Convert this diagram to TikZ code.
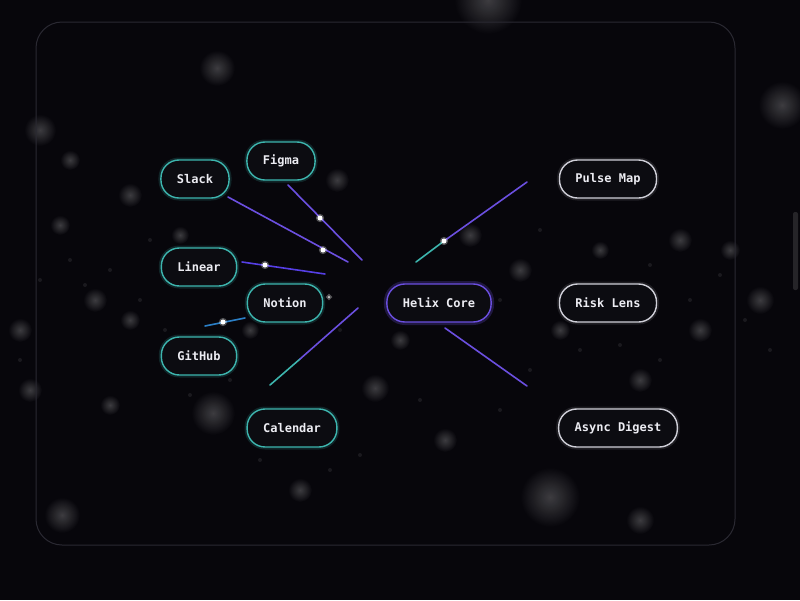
\documentclass[tikz,border=0pt]{standalone}
\usepackage{fontspec}
\setmonofont{DejaVu Sans Mono}
\usetikzlibrary{positioning, fadings}
\definecolor{bgdark}{HTML}{07060B}
\definecolor{panelline}{HTML}{2A2932}
\definecolor{tealline}{HTML}{3DB5AE}
\definecolor{violetline}{HTML}{6B4FE0}
\definecolor{silverline}{HTML}{CFCFD8}
\definecolor{pillfill}{HTML}{0C0C11}
\definecolor{pilltext}{HTML}{ECECF2}
\tikzfading[name=glowfade, inner color=transparent!0, outer color=transparent!100]
\tikzset{
    pill/.style={rectangle, rounded corners=18pt, draw, line width=1.4pt, fill=pillfill, text=pilltext, font=\ttfamily\bfseries\fontsize{12}{14}\selectfont, minimum height=38pt, inner xsep=16pt},
    source/.style={pill, draw=tealline, preaction={draw=tealline, line width=5pt, opacity=0.18}},
    hub/.style={pill, draw=violetline, preaction={draw=violetline, line width=6pt, opacity=0.25}},
    sink/.style={pill, draw=silverline, preaction={draw=silverline, line width=5pt, opacity=0.12}},
    link/.style={line width=1.6pt, violetline, line cap=round},
    tealink/.style={link, tealline},
    spark/.style={circle, fill=white, inner sep=0pt, minimum size=5pt, preaction={draw=white, line width=3pt, opacity=0.3}},
    blob/.style={fill=white, fill opacity=0.22, path fading=glowfade}
}

\begin{document}
\begin{tikzpicture}[x=1pt, y=-1pt]
    % background
    \fill[bgdark] (0,0) rectangle (800,600);
    \useasboundingbox (0,0) rectangle (800,600);

    % bokeh lights
    \foreach \bx/\by/\br in {217/68/18, 40/130/16, 782/105/24, 550/497/30, 62/515/18, 213/413/22,
        488/0/34, 130/195/12, 60/225/10, 95/300/12, 20/330/12, 130/320/10, 375/388/14, 445/440/12,
        640/380/12, 700/330/12, 730/250/10, 760/300/14, 680/240/12, 520/270/12, 470/235/12,
        337/180/12, 300/490/12, 640/520/14, 110/405/10, 30/390/12, 400/340/10, 600/250/9, 560/330/10,
        70/160/10, 180/235/9, 250/330/9}
        \fill[blob] (\bx,\by) circle (\br pt);
    \foreach \bx/\by in {70/260, 85/285, 110/270, 140/300, 165/330, 190/395, 230/380, 260/460,
        330/470, 360/455, 420/400, 500/410, 530/370, 580/350, 620/345, 660/360, 690/300, 720/275,
        745/320, 770/350, 650/265, 540/230, 500/300, 340/330, 150/240, 40/280, 20/360}
        \fill[white, opacity=0.08] (\bx,\by) circle (2pt);
    \fill[white, opacity=0.12, rounded corners=2pt] (793,212) rectangle (798,290);

    % panel
    \draw[panelline, line width=1pt, rounded corners=26pt] (36,22) rectangle (735,545);

    % link fragments
    \coordinate (slackA) at (228,197);
    \coordinate (slackB) at (348,262);
    \coordinate (figmaA) at (288,185);
    \coordinate (figmaB) at (362,260);
    \coordinate (linearA) at (242,262);
    \coordinate (linearB) at (325,274);
    \coordinate (notionA) at (205,326);
    \coordinate (notionB) at (245,318);
    \coordinate (calA) at (270,385);
    \coordinate (calM) at (300,359);
    \coordinate (calB) at (358,308);
    \coordinate (pulseA) at (416,262);
    \coordinate (pulseM) at (444,241);
    \coordinate (pulseB) at (527,182);
    \coordinate (asyncA) at (445,328);
    \coordinate (asyncB) at (527,386);

    \draw[link] (slackA) -- (slackB);
    \draw[link] (figmaA) -- (figmaB);
    \draw[link, violetline!80!blue] (linearA) -- (linearB);
    \draw[tealink, tealline!70!blue] (notionA) -- (notionB);
    \draw[tealink] (calA) -- (calM);
    \draw[link] (calM) -- (calB);
    \draw[tealink] (pulseA) -- (pulseM);
    \draw[link] (pulseM) -- (pulseB);
    \draw[link] (asyncA) -- (asyncB);

    % sparks
    \node[spark] (spark1) at (320,218) {};
    \node[spark] (spark2) at (323,250) {};
    \node[spark] (spark3) at (265,265) {};
    \node[spark] (spark4) at (223,322) {};
    \node[spark] (spark5) at (444,241) {};
    \node[spark, minimum size=2.5pt, opacity=0.7] (spark6) at (329,297) {};

    % sources
    \node[source] (slack) at (195,179) {Slack};
    \node[source] (figma) at (281,161) {Figma};
    \node[source] (linear) at (199,267) {Linear};
    \node[source] (notion) at (285,303) {Notion};
    \node[source] (github) at (199,356) {GitHub};
    \node[source] (calendar) at (292,428) {Calendar};

    % core
    \node[hub] (helix) at (439,303) {Helix Core};

    % outputs
    \node[sink] (pulse) at (608,179) {Pulse Map};
    \node[sink] (risk) at (608,303) {Risk Lens};
    \node[sink] (async) at (618,428) {Async Digest};
\end{tikzpicture}
\end{document}
